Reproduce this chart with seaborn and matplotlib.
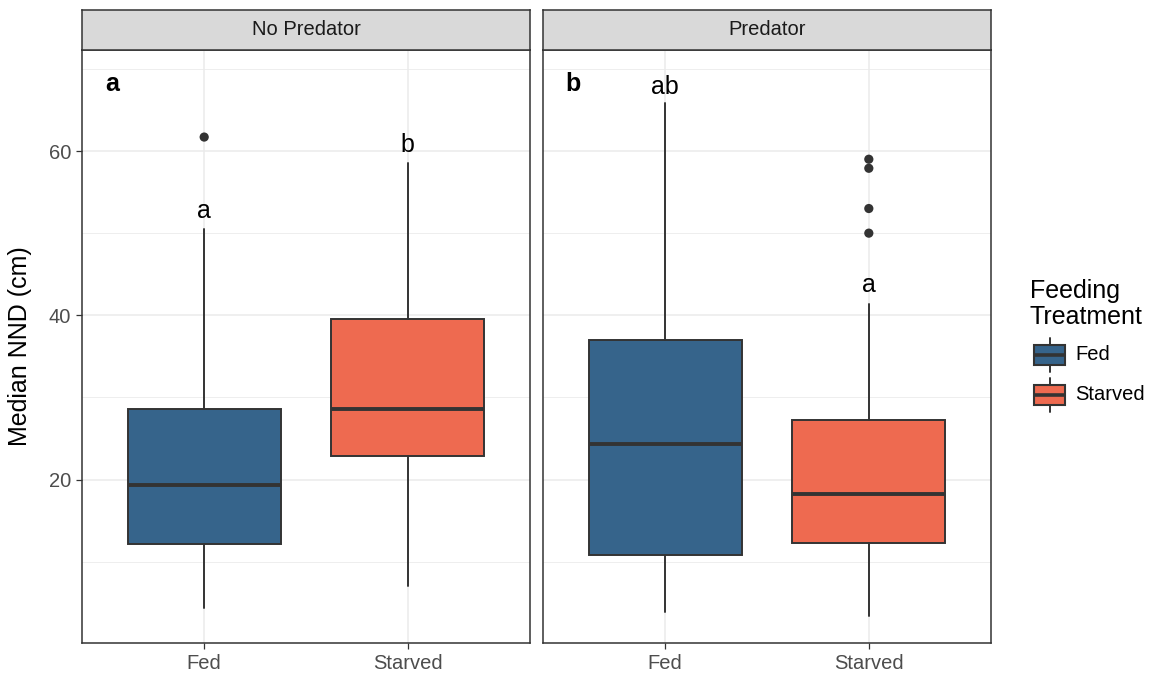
import matplotlib
matplotlib.use("Agg")
import matplotlib.pyplot as plt
import seaborn as sns
import pandas as pd
from matplotlib.patches import Rectangle

# ---------------- data ----------------
facets = ["No Predator", "Predator"]
categories = ["Fed", "Starved"]
panel_tags = ["a", "b"]

np_whislo = [4.4, 7.1]
np_q1 = [12.1, 22.9]
np_med = [19.35, 28.6]
np_q3 = [28.6, 39.6]
np_whishi = [50.5, 58.6]
np_fliers = [[61.7], []]
np_letters = ["a", "b"]
np_letter_y = [52.7, 60.7]

p_whislo = [3.9, 3.35]
p_q1 = [10.8, 12.3]
p_med = [24.3, 18.2]
p_q3 = [37.0, 27.2]
p_whishi = [65.8, 41.4]
p_fliers = [[], [59.0, 57.9, 53.0, 50.0]]
p_letters = ["ab", "a"]
p_letter_y = [67.8, 43.7]

colors = {"Fed": "#36648B", "Starved": "#EE6A50"}
yticks = [20, 40, 60]
ylim = (0.1, 72.3)

# ---------------- style ----------------
sns.set_theme(style="white")
plt.rcParams["font.family"] = ["Liberation Sans", "DejaVu Sans"]
DARK = "#333333"
TICKTXT = "#4D4D4D"
GRID = "#EBEBEB"

W, H = 1156, 673
fig = plt.figure(figsize=(W / 100, H / 100), dpi=100)


def px_axes(x0, y0, x1, y1):
    return fig.add_axes([x0 / W, 1 - y1 / H, (x1 - x0) / W, (y1 - y0) / H])


panels = [(82, 530), (543, 991)]
ptop, pbot = 50, 643
strip_top = 9.5

facet_data = [
    (np_whislo, np_q1, np_med, np_q3, np_whishi, np_fliers, np_letters, np_letter_y),
    (p_whislo, p_q1, p_med, p_q3, p_whishi, p_fliers, p_letters, p_letter_y),
]

for i, (facet, (x0, x1), fd) in enumerate(zip(facets, panels, facet_data)):
    wl, q1, md, q3, wh, fl, letters, ly = fd
    ax = px_axes(x0, ptop, x1, pbot)
    ax.set_facecolor("white")
    ax.set_xlim(-0.6, 1.6)
    ax.set_ylim(*ylim)

    # grid
    for y in yticks:
        ax.axhline(y, color=GRID, lw=1.1, zorder=0)
    for y in [10, 30, 50, 70]:
        ax.axhline(y, color=GRID, lw=0.6, zorder=0)
    for x in range(len(categories)):
        ax.axvline(x, color=GRID, lw=1.1, zorder=0)

    stats = []
    for j, cat in enumerate(categories):
        stats.append(dict(med=md[j], q1=q1[j], q3=q3[j], whislo=wl[j],
                          whishi=wh[j], fliers=[], label=cat))
    bp = ax.bxp(stats, positions=list(range(len(categories))), widths=0.75,
                patch_artist=True, showcaps=False, showfliers=False,
                boxprops=dict(edgecolor=DARK, linewidth=1.4),
                medianprops=dict(color=DARK, linewidth=2.8, solid_capstyle="butt"),
                whiskerprops=dict(color=DARK, linewidth=1.4),
                manage_ticks=False, zorder=2)
    for patch, cat in zip(bp["boxes"], categories):
        patch.set_facecolor(colors[cat])

    # outliers
    fx, fy = [], []
    for j, f in enumerate(fl):
        fx += [j] * len(f)
        fy += f
    if fx:
        sns.scatterplot(x=fx, y=fy, ax=ax, color=DARK, s=44, edgecolor="none",
                        zorder=3, legend=False)

    # significance letters
    for j, (t, y) in enumerate(zip(letters, ly)):
        ax.text(j, y, t, ha="center", va="center", fontsize=18, color="black", zorder=4)

    # panel tag
    ax.text(0.067, 0.943, panel_tags[i], transform=ax.transAxes, ha="center",
            va="center", fontsize=18, fontweight="bold", color="black")

    ax.set_xticks(range(len(categories)))
    ax.set_xticklabels(categories)
    ax.set_yticks(yticks)
    ax.tick_params(axis="both", which="both", length=4.3, width=0.9, color=DARK,
                   labelcolor=TICKTXT, labelsize=14.5, pad=3.5)
    if i > 0:
        ax.tick_params(axis="y", left=False, labelleft=False)
    else:
        ax.tick_params(axis="y", left=True)
    ax.tick_params(axis="x", bottom=True)
    for s in ax.spines.values():
        s.set_color(DARK)
        s.set_linewidth(1.1)
        s.set_visible(True)
    ax.grid(False)
    ax.set_xlabel("")
    ax.set_ylabel("")

    # strip
    sax = px_axes(x0, strip_top, x1, ptop)
    sax.set_facecolor("#D9D9D9")
    sax.set_xticks([])
    sax.set_yticks([])
    for s in sax.spines.values():
        s.set_color(DARK)
        s.set_linewidth(1.1)
        s.set_visible(True)
    sax.text(0.5, 0.5, facet, transform=sax.transAxes, ha="center", va="center",
             fontsize=14.5, color="#1A1A1A")

# y-axis title
fig.text(20 / W, 1 - 346.5 / H, "Median NND (cm)", rotation=90, ha="center",
         va="center", fontsize=18, color="black")

# ---------------- legend ----------------
lax = fig.add_axes([0, 0, 1, 1], facecolor="none")
lax.set_xlim(0, W)
lax.set_ylim(H, 0)
lax.axis("off")
lax.text(1030, 304, "Feeding\nTreatment", ha="left", va="center", fontsize=18,
         linespacing=1.08, color="black")
key_rows = [355, 395]
for cat, yc in zip(categories, key_rows):
    lax.plot([1049.5, 1049.5], [yc - 17, yc + 17], color=DARK, lw=1.4)
    lax.add_patch(Rectangle((1034, yc - 10), 31, 20, facecolor=colors[cat],
                            edgecolor=DARK, lw=1.5, zorder=3))
    lax.plot([1034, 1065], [yc, yc], color=DARK, lw=2.6, zorder=4,
             solid_capstyle="butt")
    lax.text(1075, yc, cat, ha="left", va="center", fontsize=14.5, color="black")

fig.savefig("out.png", dpi=100)
